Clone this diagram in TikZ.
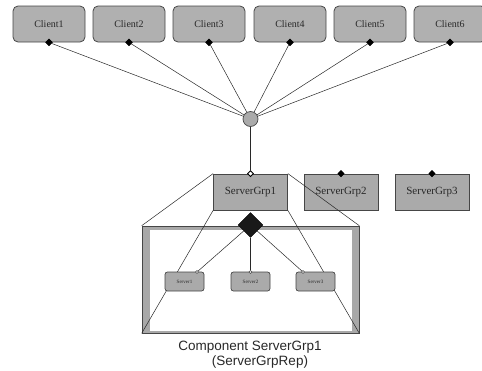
\documentclass[tikz,border=0pt]{standalone}
\usepackage{fontspec}
\setmainfont{Liberation Serif}
\newfontfamily\capfont{Liberation Sans}
\usetikzlibrary{shapes.geometric}

\definecolor{boxfill}{RGB}{176,176,176}
\definecolor{grpfill}{RGB}{170,170,170}
\definecolor{edge}{RGB}{70,70,70}
\definecolor{framegray}{RGB}{168,168,168}
\definecolor{ink}{RGB}{40,40,40}

\tikzset{
  clientbox/.style={draw=edge, fill=boxfill, rounded corners=5pt, line width=0.8pt,
    minimum width=72pt, minimum height=36pt, inner sep=0pt,
    font=\fontsize{10}{12}\selectfont, text=ink},
  grpbox/.style={draw=edge, fill=grpfill, line width=0.8pt,
    minimum width=74pt, minimum height=36pt, inner sep=0pt,
    font=\fontsize{11}{13}\selectfont, text=ink},
  serverbox/.style={draw=edge, fill=grpfill, rounded corners=2.5pt, line width=0.7pt,
    minimum width=39pt, minimum height=19pt, inner sep=0pt,
    font=\fontsize{5}{6}\selectfont, text=ink},
  port/.style={diamond, fill=black, draw=black, minimum size=7pt, inner sep=0pt},
  hollowport/.style={diamond, fill=white, draw=black, line width=0.8pt, minimum size=6pt, inner sep=0pt},
  pin/.style={circle, fill=white, draw=edge, line width=0.4pt, minimum size=3pt, inner sep=0pt},
  wire/.style={draw=ink, line width=0.5pt},
}

\begin{document}
\begin{tikzpicture}[x=1pt, y=-1pt]
\useasboundingbox (0,0) rectangle (482,370);

% client row
\foreach \i/\cx in {1/49, 2/129, 3/209, 4/290, 5/370, 6/450} {
  \node[clientbox] (client\i) at (\cx,24) {Client\i};
}
\clip (0,0) rectangle (482,370);

% hub
\node[circle, draw=edge, fill=grpfill, line width=0.7pt, minimum size=15pt, inner sep=0pt] (hub) at (250.5,119) {};

\foreach \i in {1,...,6} {
  \node[port] (cport\i) at (client\i.south) {};
  \draw[wire] (cport\i) -- (hub);
}

% server groups
\node[grpbox] (grp1) at (250.5,192) {ServerGrp1};
\node[grpbox] (grp2) at (341,192) {ServerGrp2};
\node[grpbox] (grp3) at (432,192) {ServerGrp3};
\node[hollowport] (gport1) at (grp1.north) {};
\node[port, minimum size=6.5pt] (gport2) at (grp2.north) {};
\node[port, minimum size=6.5pt] (gport3) at (grp3.north) {};
\draw[wire] (hub) -- (gport1);

% expanded component frame
\node[draw=edge, fill=framegray, line width=0.6pt, minimum width=217pt, minimum height=107pt,
      inner sep=0pt] (frame) at (250.5,279.5) {};
\fill[white] (150,229.5) rectangle (352,330.5);

% projection lines from the group to the frame corners
\draw[wire] (grp1.north west) -- (frame.north west);
\draw[wire] (grp1.south west) -- (frame.south west);
\draw[wire] (grp1.north east) -- (frame.north east);
\draw[wire] (grp1.south east) -- (frame.south east);

% inner servers
\node[diamond, fill=black!90, draw=black, minimum size=25pt, inner sep=0pt] (hubd) at (250.5,225) {};
\node[serverbox] (srv1) at (184.5,281.5) {Server1};
\node[serverbox] (srv2) at (250.5,281.5) {Server2};
\node[serverbox] (srv3) at (315.5,281.5) {Server3};
\node[pin] (pin1) at (197,272) {};
\node[pin] (pin2) at (250.5,272) {};
\node[pin] (pin3) at (303,272) {};
\draw[wire] (hubd) -- (pin1);
\draw[wire] (hubd) -- (pin2);
\draw[wire] (hubd) -- (pin3);

% caption
\node[font=\capfont\fontsize{13.5}{16}\selectfont, text=ink] (cap1) at (250,347) {Component ServerGrp1};
\node[font=\capfont\fontsize{13.5}{16}\selectfont, text=ink] (cap2) at (260,362) {(ServerGrpRep)};
\end{tikzpicture}
\end{document}
